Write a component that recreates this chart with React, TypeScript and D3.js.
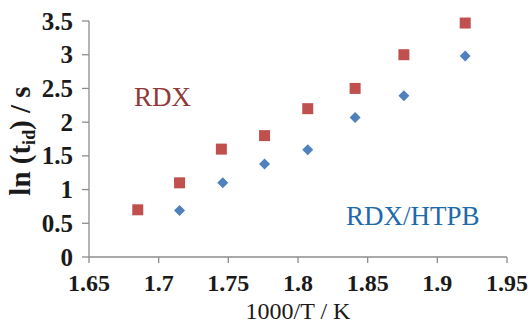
import React from 'react';
import * as d3 from 'd3';

// values
const rdxX = [1.685, 1.715, 1.745, 1.776, 1.807, 1.841, 1.876, 1.92];
const rdxY = [0.7, 1.1, 1.6, 1.8, 2.2, 2.5, 3.0, 3.47];
const htpbX = [1.715, 1.746, 1.776, 1.807, 1.841, 1.876, 1.92];
const htpbY = [0.69, 1.1, 1.38, 1.59, 2.07, 2.39, 2.98];
const xTicks = [1.65, 1.7, 1.75, 1.8, 1.85, 1.9, 1.95];
const yTicks = [0, 0.5, 1, 1.5, 2, 2.5, 3, 3.5];

const width = 531;
const height = 324;
const serif = 'Liberation Serif';

export default function App() {
  const x = d3.scaleLinear().domain([1.65, 1.95]).range([89, 507]);
  const y = d3.scaleLinear().domain([0, 3.5]).range([257, 21]);
  const square = d3.symbol().type(d3.symbolSquare).size(121)();
  const diamond = d3.symbol().type(d3.symbolSquare).size(60)();
  const axisColor = '#8c8c8c';

  return (
    <svg width={width} height={height}
         style={{ position: 'absolute', left: 0, top: 0, background: '#fff', fontFamily: serif }}>
      {/* axes */}
      <line x1={x(1.65)} x2={x(1.95)} y1={y(0)} y2={y(0)} stroke={axisColor} strokeWidth={1.3} />
      <line x1={x(1.65)} x2={x(1.65)} y1={y(0)} y2={y(3.5)} stroke={axisColor} strokeWidth={1.3} />
      {xTicks.map(t => (
        <g key={'x' + t}>
          <line x1={x(t)} x2={x(t)} y1={y(0)} y2={y(0) + 6} stroke={axisColor} strokeWidth={1.3} />
          <text x={x(t)} y={291} textAnchor="middle"
                fontWeight="bold" fontSize={24} fill="#1a1a1a">{t}</text>
        </g>
      ))}
      {yTicks.map(t => (
        <g key={'y' + t}>
          <line x1={x(1.65) - 7} x2={x(1.65)} y1={y(t)} y2={y(t)} stroke={axisColor} strokeWidth={1.3} />
          <text x={73} y={y(t)} dy="0.34em" textAnchor="end"
                fontWeight="bold" fontSize={25} fill="#1a1a1a">{t}</text>
        </g>
      ))}

      {/* axis titles */}
      <text x={298} y={318.5} textAnchor="middle" fontSize={24} fill="#1a1a1a">
        1000/T / K
      </text>
      <text transform="translate(30,141) rotate(-90)" textAnchor="middle"
            fontWeight="bold" fontSize={29} fill="#1a1a1a">
        ln (t<tspan fontSize={18} dy={5}>id</tspan><tspan dy={-5}>) / s</tspan>
      </text>

      {/* points */}
      {rdxX.map((v, i) => (
        <path key={'r' + i} d={square!} transform={`translate(${x(v)},${y(rdxY[i])})`} fill="#c0504d" />
      ))}
      {htpbX.map((v, i) => (
        <path key={'h' + i} d={diamond!} transform={`translate(${x(v)},${y(htpbY[i])}) rotate(45)`} fill="#4f81bd" />
      ))}

      {/* series labels */}
      <text x={134} y={106} fontSize={27} fill="#8e3a3a">RDX</text>
      <text x={346} y={225} fontSize={27} fill="#1f6aa8">RDX/HTPB</text>
    </svg>
  );
}
